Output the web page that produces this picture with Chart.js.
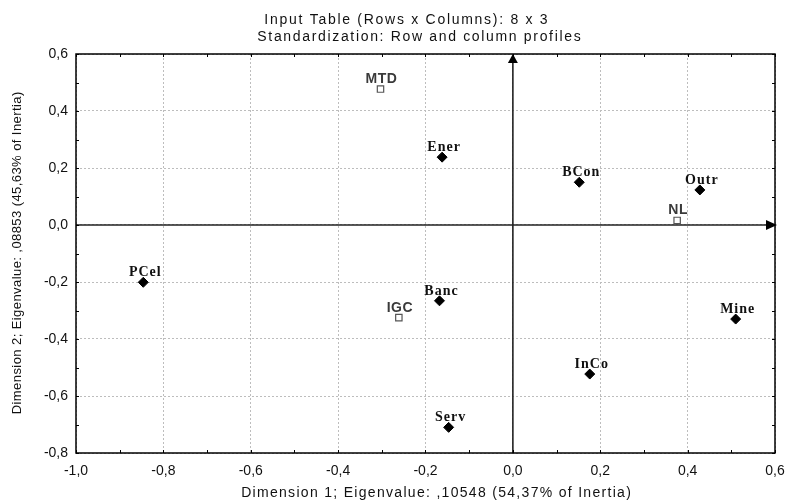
<!DOCTYPE html>
<html>
<head>
<meta charset="utf-8">
<script src="https://cdn.jsdelivr.net/npm/chart.js@4.4.1/dist/chart.umd.min.js"></script>
<style>
html, body { margin: 0; padding: 0; background: #fff; }
</style>
</head>
<body>
<canvas id="myChart" width="788" height="504"></canvas>
<script>
// row points (filled diamonds)
const rowLabels = ['Ener', 'BCon', 'Outr', 'PCel', 'Banc', 'Serv', 'InCo', 'Mine'];
const rowDim1 = [-0.162, 0.152, 0.428, -0.846, -0.168, -0.147, 0.176, 0.510];
const rowDim2 = [0.238, 0.150, 0.123, -0.201, -0.266, -0.710, -0.523, -0.330];
// column points (open squares)
const colLabels = ['MTD', 'NL', 'IGC'];
const colDim1 = [-0.303, 0.376, -0.261];
const colDim2 = [0.477, 0.016, -0.325];
// axis ticks
const xTickValues = [-1.0, -0.8, -0.6, -0.4, -0.2, 0.0, 0.2, 0.4, 0.6];
const yTickValues = [-0.8, -0.6, -0.4, -0.2, 0.0, 0.2, 0.4, 0.6];

const titleLines = ['Input Table (Rows x Columns): 8 x 3', 'Standardization: Row and column profiles'];
const xTitle = 'Dimension 1; Eigenvalue: ,10548 (54,37% of Inertia)';
const yTitle = 'Dimension 2; Eigenvalue: ,08853 (45,63% of Inertia)';

const fmt = v => v.toFixed(1).replace('.', ',');

// draw text stretched to a given width via letter spacing
function fitText(ctx, text, x, y, width) {
    ctx.letterSpacing = '0px';
    const w = ctx.measureText(text).width;
    const sp = Math.max(0, (width - w) / text.length);
    ctx.letterSpacing = sp + 'px';
    ctx.fillText(text, x + sp / 2, y);
    ctx.letterSpacing = '0px';
}

const decor = {
    id: 'decor',
    beforeDatasetsDraw(chart) {
        const ctx = chart.ctx, a = chart.chartArea;
        const xs = chart.scales.x, ys = chart.scales.y;
        const x0 = xs.getPixelForValue(0), y0 = ys.getPixelForValue(0);
        ctx.save();
        ctx.strokeStyle = '#222';
        ctx.fillStyle = '#000';
        ctx.lineWidth = 1.6;
        // horizontal axis with arrow
        ctx.beginPath();
        ctx.moveTo(a.left, y0);
        ctx.lineTo(a.right - 6, y0);
        ctx.stroke();
        ctx.beginPath();
        ctx.moveTo(a.right + 2, y0);
        ctx.lineTo(a.right - 9, y0 - 5);
        ctx.lineTo(a.right - 9, y0 + 5);
        ctx.closePath();
        ctx.fill();
        // vertical axis with arrow
        ctx.beginPath();
        ctx.moveTo(x0, a.bottom);
        ctx.lineTo(x0, a.top + 6);
        ctx.stroke();
        ctx.beginPath();
        ctx.moveTo(x0, a.top);
        ctx.lineTo(x0 - 5, a.top + 9);
        ctx.lineTo(x0 + 5, a.top + 9);
        ctx.closePath();
        ctx.fill();
        ctx.restore();
    },
    afterDraw(chart) {
        const ctx = chart.ctx, a = chart.chartArea;
        const xs = chart.scales.x, ys = chart.scales.y;
        ctx.save();
        // frame
        ctx.strokeStyle = '#000';
        ctx.lineWidth = 1.5;
        ctx.strokeRect(a.left, a.top, a.right - a.left, a.bottom - a.top);
        // small inward ticks every 0.1
        ctx.lineWidth = 1;
        ctx.beginPath();
        for (let v = -1.0; v <= 0.6001; v += 0.1) {
            const px = Math.round(xs.getPixelForValue(v)) + 0.5;
            ctx.moveTo(px, a.bottom); ctx.lineTo(px, a.bottom - 3);
            ctx.moveTo(px, a.top); ctx.lineTo(px, a.top + 3);
        }
        for (let v = -0.8; v <= 0.6001; v += 0.1) {
            const py = Math.round(ys.getPixelForValue(v)) + 0.5;
            ctx.moveTo(a.left, py); ctx.lineTo(a.left + 3, py);
            ctx.moveTo(a.right, py); ctx.lineTo(a.right - 3, py);
        }
        ctx.stroke();

        // titles
        ctx.fillStyle = '#111';
        ctx.textAlign = 'center';
        ctx.textBaseline = 'middle';
        ctx.font = '14px "Liberation Sans", Arial, sans-serif';
        fitText(ctx, titleLines[0], 406, 20, 285);
        fitText(ctx, titleLines[1], 419, 37, 325);
        ctx.font = '14px "Liberation Sans", Arial, sans-serif';
        fitText(ctx, xTitle, 436, 493, 391);
        ctx.save();
        ctx.translate(17, 253);
        ctx.rotate(-Math.PI / 2);
        ctx.font = '13px "Liberation Sans", Arial, sans-serif';
        fitText(ctx, yTitle, 0, 0, 323);
        ctx.restore();

        // point labels
        ctx.textBaseline = 'alphabetic';
        const rowMeta = chart.getDatasetMeta(0);
        ctx.font = 'bold 14px "Liberation Serif", "Times New Roman", serif';
        ctx.fillStyle = '#111';
        ctx.letterSpacing = '1px';
        rowMeta.data.forEach((pt, i) => {
            ctx.fillText(rowLabels[i], pt.x + 2, pt.y - 6);
        });
        const colMeta = chart.getDatasetMeta(1);
        ctx.font = 'bold 14px "Liberation Sans", Arial, sans-serif';
        ctx.fillStyle = '#3a3a3a';
        ctx.letterSpacing = '0.5px';
        colMeta.data.forEach((pt, i) => {
            ctx.fillText(colLabels[i], pt.x + 1, pt.y - 6);
        });
        ctx.letterSpacing = '0px';
        ctx.restore();
    }
};

const canvas = document.getElementById('myChart');
const myChart = new Chart(canvas, {
    type: 'scatter',
    data: {
        datasets: [{
            label: 'Rows',
            data: rowDim1.map((x, i) => ({ x: x, y: rowDim2[i] })),
            pointStyle: 'rectRot',
            pointRadius: 5,
            backgroundColor: '#000',
            borderColor: '#000',
            borderWidth: 1
        }, {
            label: 'Columns',
            data: colDim1.map((x, i) => ({ x: x, y: colDim2[i] })),
            pointStyle: 'rect',
            pointRadius: 4.5,
            backgroundColor: '#fff',
            borderColor: '#555',
            borderWidth: 1.2
        }]
    },
    options: {
        responsive: false,
        animation: false,
        events: [],
        layout: { padding: { top: 54, right: 13, left: 0, bottom: 0 } },
        plugins: {
            legend: { display: false },
            title: { display: false },
            tooltip: { enabled: false }
        },
        scales: {
            x: {
                type: 'linear',
                min: -1.0,
                max: 0.6,
                afterBuildTicks: s => { s.ticks = xTickValues.map(v => ({ value: v })); },
                afterFit: s => { s.height = 51; s.paddingLeft = 0; s.paddingRight = 0; },
                grid: { color: '#bdbdbd', lineWidth: 1, drawTicks: false },
                border: { display: false, dash: [2, 2] },
                ticks: {
                    padding: 10,
                    color: '#111',
                    font: { family: '"Liberation Sans", Arial, sans-serif', size: 14 },
                    callback: v => fmt(v)
                }
            },
            y: {
                type: 'linear',
                min: -0.8,
                max: 0.6,
                afterBuildTicks: s => { s.ticks = yTickValues.map(v => ({ value: v })); },
                afterFit: s => { s.width = 76; s.paddingTop = 0; s.paddingBottom = 0; },
                grid: { color: '#bdbdbd', lineWidth: 1, drawTicks: false },
                border: { display: false, dash: [2, 2] },
                ticks: {
                    padding: 8,
                    color: '#111',
                    font: { family: '"Liberation Sans", Arial, sans-serif', size: 14 },
                    callback: v => fmt(v)
                }
            }
        }
    },
    plugins: [decor]
});
</script>
</body>
</html>
